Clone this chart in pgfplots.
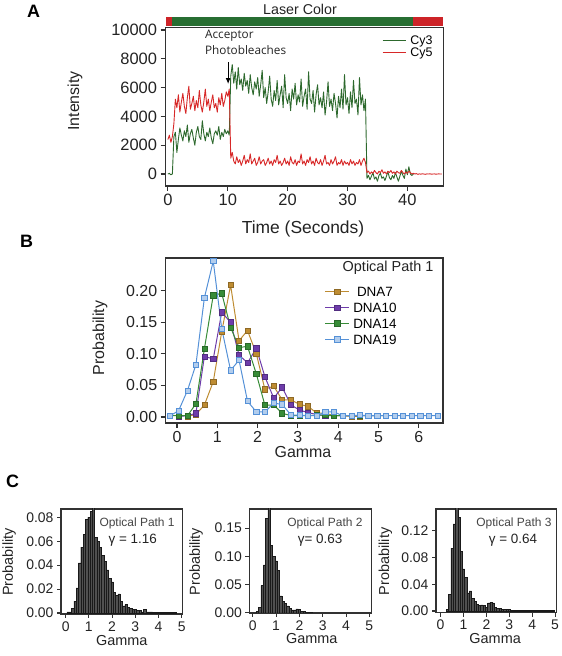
\documentclass[border=0pt]{standalone}
\usepackage{pgfplots}
\pgfplotsset{compat=1.18}
\usepackage{fontspec}
\setmainfont{Liberation Sans}
\newfontfamily\opensans{Open Sans}
\usetikzlibrary{arrows.meta}
\definecolor{cygreen}{RGB}{45,105,45}
\definecolor{cyred}{RGB}{215,40,40}
\definecolor{lasgreen}{RGB}{40,110,50}
\definecolor{lasred}{RGB}{205,35,40}
\definecolor{dnaA}{RGB}{190,140,50}
\definecolor{dnaB}{RGB}{110,60,170}
\definecolor{dnaC}{RGB}{55,140,55}
\definecolor{dnaD}{RGB}{85,145,215}
\definecolor{axgray}{RGB}{50,50,50}
\definecolor{txt}{RGB}{35,35,35}
\definecolor{barfill}{RGB}{80,80,80}
\pgfplotsset{
  base/.style={
    scale only axis, anchor=south west,
    axis line style={axgray, line width=1.2pt},
    tick style={axgray, line width=1.1pt},
    tick align=outside, xtick pos=left, ytick pos=left,
    major tick length=5pt,
    /pgf/number format/assume math mode=true,
    tick label style={text=txt},
    label style={text=txt},
  },
  twodec/.style={
    scaled y ticks=false,
    yticklabel style={/pgf/number format/fixed, /pgf/number format/fixed zerofill, /pgf/number format/precision=2},
  },
  hist/.style={
    base, twodec, major tick length=4pt,
    tick label style={font=\fontsize{14}{16}\selectfont},
    xlabel={Gamma}, ylabel={Probability},
    label style={font=\fontsize{14.5}{16}\selectfont},
    xtick={0,1,2,3,4,5},
  },
}
\begin{document}
\begin{tikzpicture}
\useasboundingbox (0,0) rectangle (562bp,656bp);
\node[font=\bfseries\fontsize{18}{19}\selectfont] at (33.5bp,645bp) {A};
\node[font=\bfseries\fontsize{18}{19}\selectfont] at (26.5bp,415bp) {B};
\node[font=\bfseries\fontsize{18}{19}\selectfont] at (12.5bp,175bp) {C};
\node[font=\fontsize{14.3}{16}\selectfont, text=txt] at (300bp,647bp) {Laser Color};

% ---------------- Panel A
\begin{axis}[base, at={(165.5bp,470bp)}, width=277.8bp, height=158.3bp,
  xmin=-0.4, xmax=46, ymin=-830, ymax=10160,
  xtick={0,10,20,30,40}, ytick={0,2000,4000,6000,8000,10000},
  scaled y ticks=false,
  yticklabel style={/pgf/number format/set thousands separator={}},
  tick label style={font=\fontsize{16.5}{19}\selectfont},
  xlabel={Time (Seconds)}, ylabel={Intensity},
  xlabel style={font=\fontsize{17.5}{20}\selectfont, at={(axis description cs:0.495,-0.272)}, anchor=center},
  ylabel style={font=\fontsize{16}{19}\selectfont, at={(axis description cs:-0.326,0.537)}, anchor=center},
  clip=false,
  legend style={draw=none, fill=none, at={(axis description cs:0.779,0.955)}, anchor=north west,
    font=\fontsize{12.5}{13}\selectfont, inner sep=0pt, row sep=0.5pt,
    nodes={inner sep=0.5pt, text height=9pt, text depth=1.5pt},
    /tikz/every odd column/.append style={column sep=4pt}},
  legend image code/.code={\draw[#1] (0bp,0bp) -- (23bp,0bp);},
]
\addplot[forget plot, fill=lasred, draw=none] coordinates {(-0.4,10290) (0.73,10290) (0.73,10880) (-0.4,10880)} --cycle;
\addplot[forget plot, fill=lasgreen, draw=none] coordinates {(0.73,10290) (41,10290) (41,10880) (0.73,10880)} --cycle;
\addplot[forget plot, fill=lasred, draw=none] coordinates {(41,10290) (46,10290) (46,10880) (41,10880)} --cycle;
\addplot[cygreen, line width=0.9pt, line join=round] coordinates {
(0,0)(0.25,50)(0.5,-50)(0.75,0)(1,2600)
(1.25,2900)(1.5,1500)(1.75,2400)(2,3200)(2.25,2700)(2.5,2300)(2.75,3000)(3,2600)(3.25,3400)(3.5,2200)(3.75,2800)(4,3100)(4.25,2500)(4.5,2000)(4.75,2900)(5,3300)(5.25,2600)(5.5,2400)(5.75,3700)(6,2800)(6.25,2300)(6.5,2900)(6.75,2600)(7,3200)(7.25,2500)(7.5,2100)(7.75,2800)(8,3000)(8.25,2700)(8.5,3300)(8.75,2400)(9,2900)(9.25,2600)(9.5,3100)(9.75,2800)(10,3000)(10.25,2700)
(10.5,6800)(10.75,7600)(11,6300)(11.25,7100)(11.5,5900)(11.75,7400)(12,6200)(12.25,6600)(12.5,5800)(12.75,7000)(13,6100)(13.25,6500)(13.5,5600)(13.75,6900)(14,6000)(14.25,5500)(14.5,6400)(14.75,5900)(15,6700)(15.25,5400)(15.5,6200)(15.75,7200)(16,5300)(16.25,6000)(16.5,4900)(16.75,5700)(17,6800)(17.25,5200)(17.5,4700)(17.75,5800)(18,5100)(18.25,6500)(18.5,4800)(18.75,5500)(19,6100)(19.25,4600)(19.5,6900)(19.75,5300)(20,4900)(20.25,5600)(20.5,4400)(20.75,5900)(21,5200)(21.25,6300)(21.5,4800)(21.75,5500)(22,5000)(22.25,6600)(22.5,4700)(22.75,5400)(23,5900)(23.25,4500)(23.5,7100)(23.75,5200)(24,4900)(24.25,5800)(24.5,4300)(24.75,5500)(25,6200)(25.25,4800)(25.5,5300)(25.75,4600)(26,5700)(26.25,4100)(26.5,5000)(26.75,6400)(27,4700)(27.25,5200)(27.5,4400)(27.75,5600)(28,4900)(28.25,3900)(28.5,5400)(28.75,4600)(29,5900)(29.25,4500)(29.5,6900)(29.75,4800)(30,5300)(30.25,4200)(30.5,5700)(30.75,4600)(31,6500)(31.25,4900)(31.5,5200)(31.75,4100)(32,6700)(32.25,4800)(32.5,5500)(32.75,4400)(33,5200)
(33.25,-300)(33.5,-100)(33.75,-400)(34,-150)(34.25,100)(34.5,-350)(34.75,-200)(35,-500)(35.25,-100)(35.5,50)(35.75,-300)(36,-200)(36.25,-450)(36.5,-150)(36.75,150)(37,-250)(37.25,-400)(37.5,-100)(37.75,-300)(38,100)(38.25,-200)(38.5,-500)(38.75,-150)(39,200)(39.25,-100)(39.5,-300)(39.75,350)(40,-50)(40.25,500)(40.5,0)(40.75,-100)(41,0)
};
\addlegendentry{Cy3}
\addplot[cyred, line width=0.9pt, line join=round] coordinates {
(0,2400)(0.25,2700)(0.5,2200)(0.75,2600)(1,3500)
(1.25,5200)(1.5,4600)(1.75,5500)(2,4300)(2.25,5000)(2.5,5600)(2.75,4700)(3,4200)(3.25,5300)(3.5,6100)(3.75,4500)(4,4900)(4.25,5400)(4.5,4400)(4.75,5100)(5,4600)(5.25,5800)(5.5,4800)(5.75,4300)(6,5000)(6.25,5900)(6.5,4700)(6.75,5200)(7,4400)(7.25,5000)(7.5,5500)(7.75,4600)(8,4900)(8.25,4300)(8.5,5300)(8.75,4800)(9,5600)(9.25,4700)(9.5,5100)(9.75,5700)(10,5400)(10.25,5900)
(10.5,1100)(10.75,1500)(11,900)(11.25,700)(11.5,1200)(11.75,800)(12,1000)(12.25,600)(12.5,900)(12.75,1300)(13,700)(13.25,1000)(13.5,800)(13.75,1400)(14,700)(14.25,900)(14.5,1100)(14.75,600)(15,800)(15.25,1200)(15.5,700)(15.75,900)(16,1000)(16.25,600)(16.5,800)(16.75,1100)(17,700)(17.25,900)(17.5,600)(17.75,1000)(18,800)(18.25,1300)(18.5,700)(18.75,900)(19,600)(19.25,800)(19.5,1100)(19.75,700)(20,900)(20.25,600)(20.5,1200)(20.75,800)(21,700)(21.25,1000)(21.5,600)(21.75,900)(22,800)(22.25,1400)(22.5,700)(22.75,900)(23,600)(23.25,1000)(23.5,800)(23.75,1200)(24,700)(24.25,900)(24.5,600)(24.75,1100)(25,800)(25.25,700)(25.5,1000)(25.75,600)(26,900)(26.25,1300)(26.5,700)(26.75,800)(27,600)(27.25,1000)(27.5,700)(27.75,900)(28,1200)(28.25,600)(28.5,800)(28.75,700)(29,1000)(29.25,600)(29.5,900)(29.75,700)(30,800)(30.25,600)(30.5,1000)(30.75,700)(31,900)(31.25,600)(31.5,800)(31.75,700)(32,1000)(32.25,600)(32.5,900)(32.75,1100)(33,800)
(33.25,100)(33.5,200)(33.75,0)(34,150)(34.25,50)(34.5,250)(34.75,100)(35,0)(35.25,200)(35.5,100)(35.75,300)(36,50)(36.25,150)(36.5,0)(36.75,200)(37,100)(37.25,250)(37.5,50)(37.75,150)(38,0)(38.25,200)(38.5,100)(38.75,50)(39,250)(39.25,100)(39.5,0)(39.75,150)(40,50)(40.25,200)(40.5,100)(40.75,0)(41,50)
(41.25,0)(41.5,30)(41.75,-20)(42,10)(42.25,-10)(42.5,20)(42.75,0)(43,-20)(43.25,10)(43.5,0)(43.75,20)(44,-10)(44.25,0)(44.5,10)(44.75,-10)(45,0)(45.25,10)(45.5,0)(45.75,0)
};
\addlegendentry{Cy5}
\node[anchor=north west, align=left, font=\opensans\fontsize{11.8}{16}\selectfont, text=txt, inner sep=0pt]
  at (axis description cs:0.142,0.985) {Acceptor\\Photobleaches};
\draw[-{Latex[length=6pt,width=5pt]}, line width=1pt, black] (axis cs:10.06,7750) -- (axis cs:10.06,6250);
\end{axis}

% ---------------- Panel B
\begin{axis}[base, twodec, at={(165.7bp,233bp)}, width=277.3bp, height=165bp,
  xmin=-0.28, xmax=6.6, ymin=-0.0095, ymax=0.252,
  xtick={0,1,2,3,4,5,6}, ytick={0,0.05,0.1,0.15,0.2},
  tick label style={font=\fontsize{16}{19}\selectfont},
  xlabel={Gamma}, ylabel={Probability},
  xlabel style={font=\fontsize{16}{19}\selectfont, at={(axis description cs:0.495,-0.176)}, anchor=center},
  ylabel style={font=\fontsize{16}{19}\selectfont, at={(axis description cs:-0.237,0.515)}, anchor=center},
  legend style={draw=none, fill=none, at={(axis description cs:0.573,0.83)}, anchor=north west,
    font=\fontsize{13.5}{14}\selectfont, inner sep=0pt, row sep=5.5pt,
    nodes={inner sep=0.5pt, text height=9.5pt, text depth=0pt},
    /tikz/every odd column/.append style={column sep=3pt}},
  legend image code/.code={\draw[mark repeat=2,mark phase=2,#1] plot coordinates {(0bp,0bp) (12bp,0bp) (24bp,0bp)};},
  every axis plot/.append style={line width=1pt, mark=square*, mark size=2.6pt},
]
\addplot[dnaA, mark options={fill=dnaA, draw=dnaA!75!black, line width=0.6pt}] coordinates {
(0.26,0.001)(0.47,0.004)(0.68,0.019)(0.90,0.056)(1.11,0.135)(1.33,0.209)(1.54,0.121)(1.75,0.137)(1.97,0.100)(2.18,0.044)(2.40,0.049)(2.61,0.027)(2.83,0.027)(3.04,0.020)(3.25,0.017)(3.47,0.006)(3.68,0.006)(3.90,0.002)(4.11,0.002)(4.33,0.001)(4.54,0.001)};
\addlegendentry{DNA7}
\addplot[dnaB, mark options={fill=dnaB, draw=dnaB!75!black, line width=0.6pt}] coordinates {
(0.04,0.001)(0.26,0.002)(0.47,0.006)(0.68,0.096)(0.90,0.092)(1.11,0.166)(1.33,0.150)(1.54,0.098)(1.75,0.086)(1.97,0.109)(2.18,0.064)(2.40,0.030)(2.61,0.047)(2.83,0.019)(3.04,0.011)(3.25,0.007)(3.47,0.004)(3.68,0.002)(3.90,0.002)(4.11,0.002)(4.33,0.002)(4.54,0.002)(4.75,0.002)(4.97,0.002)};
\addlegendentry{DNA10}
\addplot[dnaC, mark options={fill=dnaC, draw=dnaC!75!black, line width=0.6pt}] coordinates {
(-0.17,0.002)(0.04,0.002)(0.26,0.002)(0.47,0.021)(0.68,0.108)(0.90,0.193)(1.11,0.196)(1.33,0.142)(1.54,0.110)(1.75,0.112)(1.97,0.068)(2.18,0.019)(2.40,0.019)(2.61,0.006)(2.83,0.002)(3.04,0.002)(3.25,0.002)(3.47,0.003)(3.68,0.003)(3.90,0.002)(4.11,0.002)(4.33,0.002)(4.54,0.002)(4.75,0.002)(4.97,0.002)(5.18,0.002)};
\addlegendentry{DNA14}
\addplot[dnaD, mark options={fill=dnaD!45!white, draw=dnaD, line width=0.7pt}] coordinates {
(-0.17,0.002)(0.04,0.010)(0.26,0.042)(0.47,0.083)(0.68,0.189)(0.90,0.247)(1.11,0.140)(1.33,0.074)(1.54,0.090)(1.75,0.025)(1.97,0.008)(2.18,0.008)(2.40,0.022)(2.61,0.020)(2.83,0.003)(3.04,0.003)(3.25,0.002)(3.47,0.002)(3.68,0.008)(3.90,0.008)(4.11,0.002)(4.33,0.002)(4.54,0.003)(4.75,0.002)(4.97,0.002)(5.18,0.002)(5.40,0.002)(5.61,0.002)(5.83,0.002)(6.04,0.002)(6.25,0.002)(6.47,0.002)};
\addlegendentry{DNA19}
\node[font=\fontsize{14.5}{16}\selectfont, text=txt] at (axis description cs:0.802,0.939) {Optical Path 1};
\end{axis}

% ---------------- Panel C1
\begin{axis}[hist, at={(61bp,42bp)}, width=121.7bp, height=105bp,
  xmin=-0.2, xmax=5.04, ymin=-0.0008, ymax=0.0869,
  ytick={0,0.02,0.04,0.06,0.08},
  xlabel style={at={(axis description cs:0.499,-0.248)}, anchor=center},
  ylabel style={at={(axis description cs:-0.427,0.495)}, anchor=center},
]
\addplot[ybar, bar width=0.1, bar shift=0pt, fill=barfill, draw=black!90, line width=0.4pt] coordinates {
(0.1,0.001)(0.2,0.001)(0.3,0.004)(0.4,0.010)(0.5,0.021)(0.6,0.042)(0.7,0.055)(0.8,0.066)(0.9,0.078)(1.0,0.080)(1.1,0.085)(1.2,0.090)(1.3,0.063)(1.4,0.060)(1.5,0.055)(1.6,0.048)(1.7,0.043)(1.8,0.036)(1.9,0.029)(2.0,0.026)(2.1,0.017)(2.2,0.015)(2.3,0.016)(2.4,0.010)(2.5,0.006)(2.6,0.007)(2.7,0.005)(2.8,0.004)(2.9,0.003)(3.0,0.003)(3.1,0.002)(3.2,0.002)(3.3,0.001)(3.4,0.003)(3.5,0.001)(3.6,0.001)(3.7,0.001)(3.8,0.0008)(3.9,0.0008)(4.0,0.0008)(4.1,0.0006)(4.2,0.0006)(4.3,0.0006)(4.4,0.0006)(4.5,0.0006)(4.6,0.0005)(4.7,0.0005)};
\node[font=\fontsize{12}{14}\selectfont, text=txt!85] at (axis description cs:0.625,0.867) {Optical Path 1};
\node[font=\fontsize{13.5}{15}\selectfont, text=txt] at (axis description cs:0.59,0.705) {γ = 1.16};
\end{axis}

% ---------------- Panel C2
\begin{axis}[hist, at={(249.3bp,43bp)}, width=122.4bp, height=104bp,
  xmin=-0.15, xmax=5.1, ymin=-0.0005, ymax=0.1839,
  ytick={0,0.05,0.1,0.15},
  xlabel style={at={(axis description cs:0.51,-0.25)}, anchor=center},
  ylabel style={at={(axis description cs:-0.435,0.495)}, anchor=center},
]
\addplot[ybar, bar width=0.1, bar shift=0pt, fill=barfill, draw=black!90, line width=0.4pt] coordinates {
(0.2,0.003)(0.3,0.010)(0.4,0.048)(0.5,0.085)(0.6,0.167)(0.7,0.190)(0.8,0.120)(0.9,0.100)(1.0,0.092)(1.1,0.075)(1.2,0.030)(1.3,0.020)(1.4,0.016)(1.5,0.012)(1.6,0.008)(1.7,0.005)(1.8,0.005)(1.9,0.007)(2.0,0.006)(2.1,0.003)(2.2,0.002)(2.3,0.001)(2.4,0.001)(2.5,0.001)};
\node[font=\fontsize{12}{14}\selectfont, text=txt!85] at (axis description cs:0.618,0.865) {Optical Path 2};
\node[font=\fontsize{13.5}{15}\selectfont, text=txt] at (axis description cs:0.578,0.70) {γ= 0.63};
\end{axis}

% ---------------- Panel C3
\begin{axis}[hist, at={(436bp,43.3bp)}, width=120.7bp, height=103.7bp,
  xmin=-0.2, xmax=5.07, ymin=-0.0025, ymax=0.1523,
  ytick={0,0.04,0.08,0.12},
  xlabel style={at={(axis description cs:0.49,-0.25)}, anchor=center},
  ylabel style={at={(axis description cs:-0.42,0.495)}, anchor=center},
]
\addplot[ybar, bar width=0.1, bar shift=0pt, fill=barfill, draw=black!90, line width=0.4pt] coordinates {
(0.3,0.002)(0.4,0.025)(0.5,0.094)(0.6,0.130)(0.7,0.160)(0.8,0.140)(0.9,0.089)(1.0,0.063)(1.1,0.050)(1.2,0.027)(1.3,0.030)(1.4,0.019)(1.5,0.014)(1.6,0.010)(1.7,0.008)(1.8,0.009)(1.9,0.008)(2.0,0.006)(2.1,0.012)(2.2,0.013)(2.3,0.012)(2.4,0.005)(2.5,0.004)(2.6,0.004)(2.7,0.003)(2.8,0.003)(2.9,0.002)(3.0,0.002)(3.1,0.0015)(3.2,0.0015)(3.3,0.001)(3.4,0.0015)(3.5,0.001)(3.6,0.001)(3.7,0.0015)(3.8,0.001)(3.9,0.001)(4.0,0.001)(4.1,0.0015)(4.2,0.001)(4.3,0.001)(4.4,0.001)(4.5,0.0015)(4.6,0.001)(4.7,0.001)(4.8,0.001)(4.9,0.001)};
\node[font=\fontsize{12}{14}\selectfont, text=txt!85] at (axis description cs:0.646,0.865) {Optical Path 3};
\node[font=\fontsize{13.5}{15}\selectfont, text=txt] at (axis description cs:0.638,0.70) {γ = 0.64};
\end{axis}
\end{tikzpicture}
\end{document}
